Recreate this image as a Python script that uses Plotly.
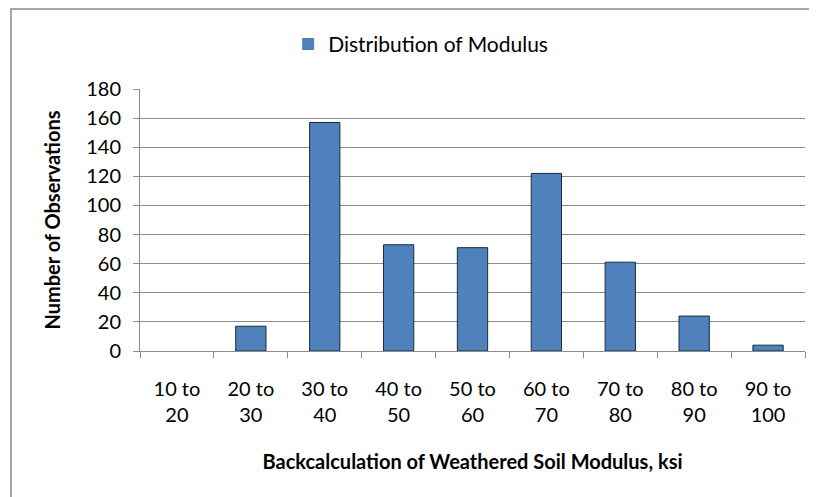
import plotly.graph_objects as go

categories = ["10 to 20", "20 to 30", "30 to 40", "40 to 50", "50 to 60",
              "60 to 70", "70 to 80", "80 to 90", "90 to 100"]
tick_labels = ["10 to<br>20", "20 to<br>30", "30 to<br>40", "40 to<br>50", "50 to<br>60",
               "60 to<br>70", "70 to<br>80", "80 to<br>90", "90 to<br>100"]
observations = [0, 17, 157, 73, 71, 122, 61, 24, 4]
y_ticks = [0, 20, 40, 60, 80, 100, 120, 140, 160, 180]

FONT = "Lato, Calibri, 'Open Sans', sans-serif"
GRID = "#8c8c8c"

# the page body has an 8px default margin, so the figure is drawn 8px smaller
fig = go.Figure()
fig.add_trace(go.Bar(
    x=categories, y=observations, name="Distribution of Modulus",
    marker=dict(color="#4F81BD",
                line=dict(color="#1b2a3a", width=[0 if v == 0 else 1 for v in observations])),
    showlegend=True,
))

fig.update_layout(
    width=809, height=489,
    margin=dict(l=132, r=12, t=81, b=146),
    paper_bgcolor="white", plot_bgcolor="white",
    bargap=0.59,
    font=dict(family=FONT, size=20, color="#000"),
    showlegend=True,
    legend=dict(orientation="h", x=0.422, xanchor="center", y=1.17, yanchor="middle",
                font=dict(family=FONT, size=21, color="#000"), itemwidth=30),
    xaxis=dict(
        type="category", tickmode="array", tickvals=categories, ticktext=tick_labels,
        tickson="boundaries", ticks="outside", ticklen=6, tickcolor=GRID,
        showline=True, linecolor=GRID, linewidth=1, showgrid=False,
        tickfont=dict(family=FONT, size=20, color="#000"),
        ticklabelstandoff=20,
        title=dict(text="<b>Backcalculation of Weathered Soil Modulus, ksi</b>",
                   font=dict(family=FONT, size=20, color="#000"), standoff=29),
    ),
    yaxis=dict(
        range=[0, 180], tickmode="array", tickvals=y_ticks,
        ticks="outside", ticklen=6, tickcolor=GRID,
        showline=True, linecolor=GRID, linewidth=1,
        showgrid=True, gridcolor=GRID, gridwidth=1, zeroline=False,
        tickfont=dict(family=FONT, size=20, color="#000"),
        ticklabelstandoff=8,
        title=dict(text="<b>Number of Observations</b>",
                   font=dict(family=FONT, size=20, color="#000"), standoff=20),
    ),
    shapes=[dict(type="rect", xref="paper", yref="paper",
                 x0=-0.194, x1=1.2, y0=-1.0, y1=1.305,
                 line=dict(color="#a6a6a6", width=2), fillcolor="rgba(0,0,0,0)",
                 layer="below")],
)

fig.write_html("out.html")
